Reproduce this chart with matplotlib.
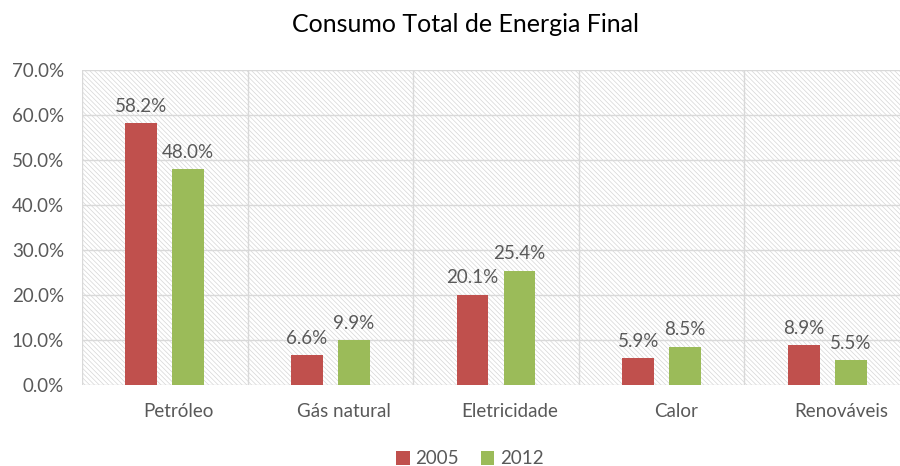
import matplotlib
matplotlib.use("Agg")
import matplotlib.pyplot as plt
from matplotlib.patches import Rectangle
from matplotlib.transforms import ScaledTranslation
import numpy as np

categories = ["Petróleo", "Gás natural", "Eletricidade", "Calor", "Renováveis"]
series_names = ["2005", "2012"]
values_2005 = [58.2, 6.6, 20.1, 5.9, 8.9]
values_2012 = [48.0, 9.9, 25.4, 8.5, 5.5]
yticks = [0, 10, 20, 30, 40, 50, 60, 70]

RED = "#C0504D"
GREEN = "#9BBB59"
TXT = "#595959"
GRID = "#D9D9D9"

plt.rcParams['font.family'] = ['Lato', 'DejaVu Sans']
plt.rcParams['hatch.linewidth'] = 0.5
plt.rcParams['hatch.color'] = "#D6D6D6"

fig = plt.figure(figsize=(9.0, 4.66), dpi=100)
ax = fig.add_axes([82/900, 1-385/466, (910-82)/900, (385-70)/466])
ax.set_xlim(-0.5, 4.5)
ax.set_ylim(0, 70)

# hatched background
bg = Rectangle((0, 0), 1, 1, transform=ax.transAxes, facecolor="white",
               edgecolor="#D6D6D6", hatch="\\" * 7, linewidth=0, zorder=0)
ax.add_patch(bg)

x = np.arange(len(categories))
w = 0.193
off = 0.142
b1 = ax.bar(x - off, values_2005, w, color=RED, label=series_names[0], zorder=3)
b2 = ax.bar(x + off, values_2012, w, color=GREEN, label=series_names[1], zorder=3)

for bars, vals in ((b1, values_2005), (b2, values_2012)):
    for r, v in zip(bars, vals):
        ax.annotate(f"{v:.1f}%", (r.get_x() + r.get_width()/2, v),
                    xytext=(0, 6), textcoords="offset points",
                    ha="center", va="bottom", fontsize=13.5, color=TXT, zorder=4)

# gridlines
for yv in yticks:
    ax.axhline(yv, color=GRID, lw=1.0, zorder=1)
for xv in np.arange(-0.5, 5, 1.0):
    ax.axvline(xv, color=GRID, lw=1.0, zorder=1)

for s in ax.spines.values():
    s.set_visible(False)

ax.set_yticks(yticks)
ax.set_yticklabels([f"{v:.1f}%" for v in yticks], fontsize=13.5, color=TXT)
ax.set_xticks(x)
ax.set_xticklabels(categories, fontsize=13.5, color=TXT)
ax.tick_params(axis='both', length=0)
ax.tick_params(axis='y', pad=13)
ax.tick_params(axis='x', pad=13)
for lab in ax.get_xticklabels():
    lab.set_transform(lab.get_transform() + ScaledTranslation(14/100, 0, fig.dpi_scale_trans))

fig.text(466/900, 1-25/466, "Consumo Total de Energia Final", ha="center", va="center",
         fontsize=18, color="black")

leg = fig.legend(handles=[b1, b2], labels=series_names, loc="center",
                 bbox_to_anchor=(470/900, 1-459/466), ncol=2, frameon=False,
                 fontsize=13.5, handlelength=0.7, handleheight=0.7,
                 columnspacing=1.2, handletextpad=0.3, labelcolor=TXT)

fig.savefig("out.png", dpi=100)
